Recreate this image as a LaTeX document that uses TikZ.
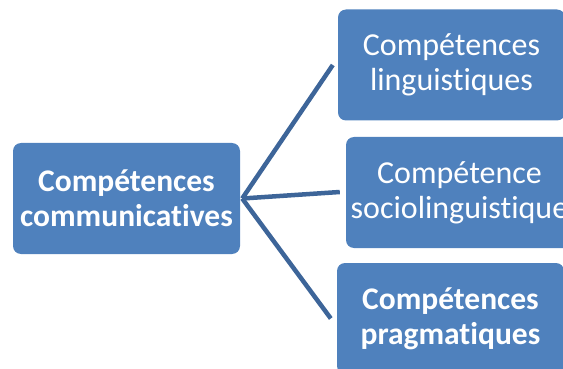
\documentclass[tikz,border=0pt]{standalone}
\usepackage{fontspec}
\setmainfont[Ligatures=NoCommon]{Carlito}
\definecolor{boxblue}{HTML}{4F81BD}
\definecolor{lineblue}{HTML}{3D6599}
\tikzset{
  comp/.style = {rectangle, rounded corners=8pt, minimum width=227pt, minimum height=111pt,
    text centered, align=center, fill=boxblue, text=white, inner sep=0pt,
    font=\fontsize{32}{35}\selectfont},
  link/.style = {draw=lineblue, line width=4.5pt}
}
\begin{document}
\begin{tikzpicture}[x=1pt, y=-1pt]
\useasboundingbox (0,0) rectangle (563,369);
\clip (0,0) rectangle (563,369);
\node (comm) [comp, font=\fontsize{31.5}{35}\selectfont\bfseries] at (126.5,198.5) {Compétences\\communicatives};
\node (ling) [comp] at (451.5,65) {Compétences\\linguistiques};
\node (socio) [comp] at (459.5,192.5) {Compétence\\sociolinguistique};
\node (prag) [comp, font=\fontsize{31.5}{35}\selectfont\bfseries] at (450.5,318.5) {Compétences\\pragmatiques};

\draw [link] ([xshift=2pt]comm.east) -- ([xshift=-5pt]ling.west);
\draw [link] ([xshift=2pt]comm.east) -- ([xshift=-6pt,yshift=0.5pt]socio.west);
\draw [link] ([xshift=2pt]comm.east) -- ([xshift=-6pt]prag.west);
\end{tikzpicture}
\end{document}
